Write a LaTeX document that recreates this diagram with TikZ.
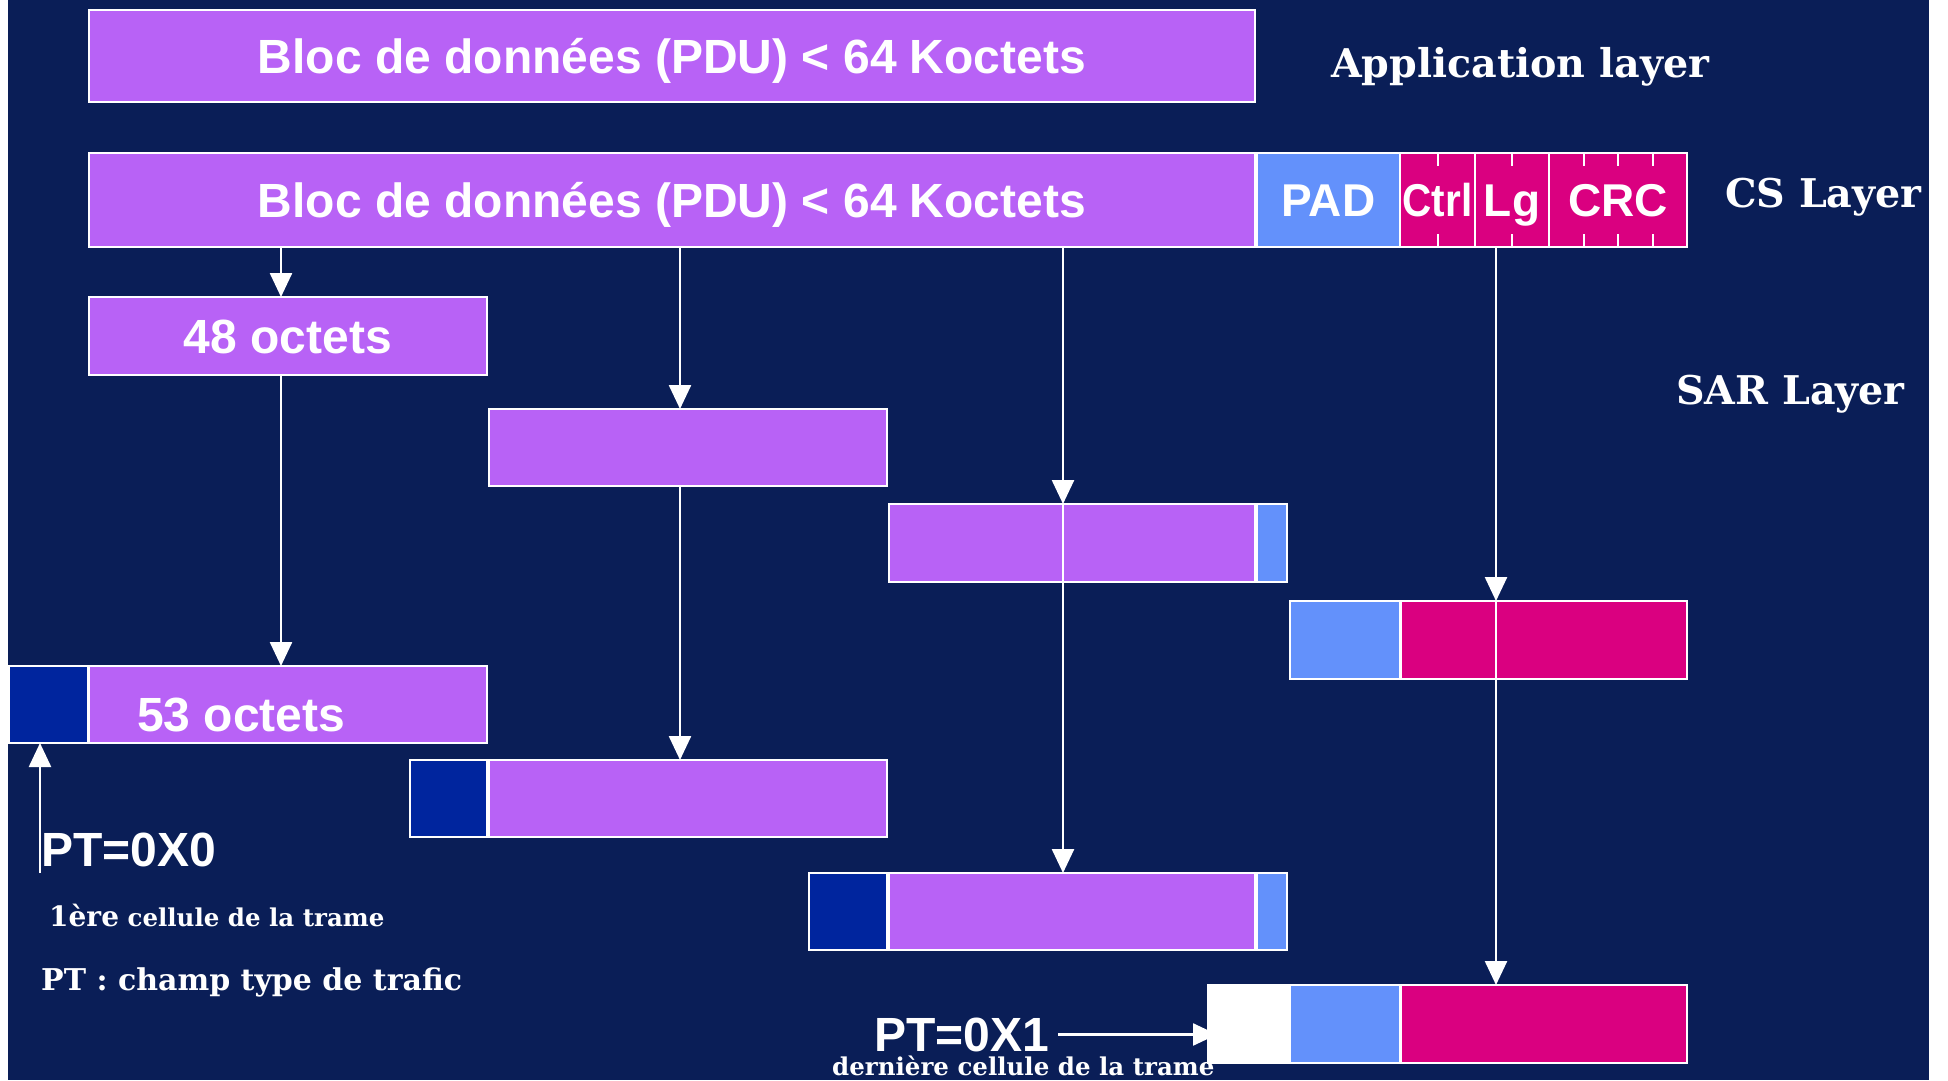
\documentclass[tikz,border=0pt]{standalone}
\usepackage{fontspec}
\newfontfamily\sansb{Liberation Sans}
\newfontfamily\serifb{DejaVu Serif}
\usetikzlibrary{arrows.meta,calc}
\definecolor{navy}{RGB}{10,30,87}
\definecolor{lilac}{RGB}{184,98,246}
\definecolor{sky}{RGB}{99,145,251}
\definecolor{rosered}{RGB}{218,0,128}
\definecolor{deepblue}{RGB}{0,37,158}
\newcommand\bigsans{\sansb\bfseries\fontsize{48}{50}\selectfont}
\newcommand\fieldsans{\sansb\bfseries\fontsize{46}{48}\selectfont}
\newcommand\layerfont{\serifb\bfseries\fontsize{39.6}{42}\selectfont}
\newcommand\notefont{\serifb\bfseries\fontsize{24.5}{26}\selectfont}
\begin{document}
\begin{tikzpicture}[x=1pt,y=-1pt,
  box/.style={draw=white,line width=2.5pt,anchor=north west,inner sep=0pt,outer sep=0pt,text=white},
  pbox/.style={box,fill=lilac,font=\bigsans,text height=34pt,text depth=0pt},
  sbox/.style={box,fill=sky,font=\fieldsans,text height=33pt,text depth=0pt},
  rbox/.style={box,fill=rosered,font=\fieldsans,text height=33pt,text depth=0pt},
  dbox/.style={box,fill=deepblue},
  wbox/.style={box,fill=white},
  lbl/.style={anchor=base west,inner sep=0pt,text=white},
  conn/.style={draw=white,line width=2.5pt,-{Triangle[width=22pt,length=24pt]}},
  tick/.style={draw=white,line width=2pt},
  h78/.style={minimum height=78pt},
  h94/.style={minimum height=94pt}]
\useasboundingbox (0,0) rectangle (1948,1080);
\fill[white] (0,0) rectangle (1948,1080);
\fill[navy] (8,0) rectangle (1929,1080);

% application layer
\node[pbox,minimum width=1166pt,minimum height=92pt] (app) at (89,10) {Bloc de données (PDU) < 64 Koctets};
% CS layer
\node[pbox,h94,minimum width=1166pt] (pdu) at (89,153) {Bloc de données (PDU) < 64 Koctets};
\node[sbox,h94,minimum width=143pt] (pad) at (1257,153) {PAD};
\node[rbox,h94,minimum width=75pt] (ctrl) at (1400,153) {\scalebox{0.88}[1]{Ctrl}};
\node[rbox,h94,minimum width=74pt] (lg) at (1475,153) {Lg};
\node[rbox,h94,minimum width=138pt] (crc) at (1549,153) {CRC};
\foreach \n/\f in {ctrl/0.5,lg/0.5,crc/0.25,crc/0.5,crc/0.75}{
  \draw[tick] ($(\n.north west)!\f!(\n.north east)$) -- ++(0,13);
  \draw[tick] ($(\n.south west)!\f!(\n.south east)$) -- ++(0,-13);
}
% SAR layer
\node[pbox,h78,minimum width=398pt] (s48) at (89,297) {48 octets};
\node[pbox,h78,minimum width=398pt,minimum height=77pt] (s2) at (489,409) {};
\node[pbox,h78,minimum width=366pt] (s3) at (889,504) {};
\node[sbox,h78,minimum width=30pt] (s3pad) at (1257,504) {};
\node[sbox,h78,minimum width=110pt] (s4pad) at (1290,601) {};
\node[rbox,h78,minimum width=286pt] (s4crc) at (1401,601) {};
% cells
\node[dbox,h78,minimum width=79pt,minimum height=77pt] (c1hdr) at (9,666) {};
\node[pbox,h78,minimum width=398pt,minimum height=77pt] (c1) at (89,666) {};
\node[dbox,h78,minimum width=77pt,minimum height=77pt] (c2hdr) at (410,760) {};
\node[pbox,h78,minimum width=398pt,minimum height=77pt] (c2) at (489,760) {};
\node[dbox,h78,minimum width=78pt,minimum height=77pt] (c3hdr) at (809,873) {};
\node[pbox,h78,minimum width=366pt,minimum height=77pt] (c3) at (889,873) {};
\node[sbox,h78,minimum width=30pt,minimum height=77pt] (c3pad) at (1257,873) {};
\node[wbox,h78,minimum width=80pt] (c4hdr) at (1208,985) {};
\node[sbox,h78,minimum width=110pt] (c4pad) at (1290,985) {};
\node[rbox,h78,minimum width=286pt] (c4crc) at (1401,985) {};

% labels
\node[lbl,font=\layerfont] (lapp) at (1331,77) {Application layer};
\node[lbl,font=\layerfont] (lcs) at (1725,207) {CS Layer};
\node[lbl,font=\layerfont] (lsar) at (1676,404) {SAR Layer};
\node[lbl,font=\bigsans] (t53) at (137,731) {53 octets};
\node[lbl,font=\bigsans] (pt0) at (41,866) {PT=0X0};
\node[lbl,font=\notefont] (first) at (49,926) {{\fontsize{28}{30}\selectfont 1ère} cellule de la trame};
\node[lbl,font=\serifb\bfseries\fontsize{30}{32}\selectfont] (ptdef) at (41,990) {PT : champ type de trafic};
\node[lbl,font=\bigsans] (pt1) at (874,1051) {PT=0X1};
\node[lbl,font=\notefont] (last) at (832,1075) {dernière cellule de la trame};

% connectors
\coordinate (xa) at (281,0);
\coordinate (xb) at (680,0);
\coordinate (xc) at (1063,0);
\coordinate (xd) at (1496,0);
\coordinate (ptfoot) at (40,873);
\draw[conn] (xa |- pdu.south) -- (xa |- s48.north);
\draw[conn] (xa |- s48.south) -- (xa |- c1.north);
\draw[conn] (xb |- pdu.south) -- (xb |- s2.north);
\draw[conn] (xb |- s2.south) -- (xb |- c2.north);
\draw[conn] (xc |- pdu.south) -- (xc |- s3.north);
\draw[conn] (xc |- s3.north) -- (xc |- c3.north);
\draw[conn] (xd |- lg.south) -- (xd |- s4crc.north);
\draw[conn] (xd |- s4crc.north) -- (xd |- c4crc.north);
\draw[conn] (ptfoot) -- (ptfoot |- c1hdr.south);
\draw[conn] ([xshift=9pt]pt1.east) -- ([xshift=9pt]pt1.east -| c4hdr.west);
\end{tikzpicture}
\end{document}
